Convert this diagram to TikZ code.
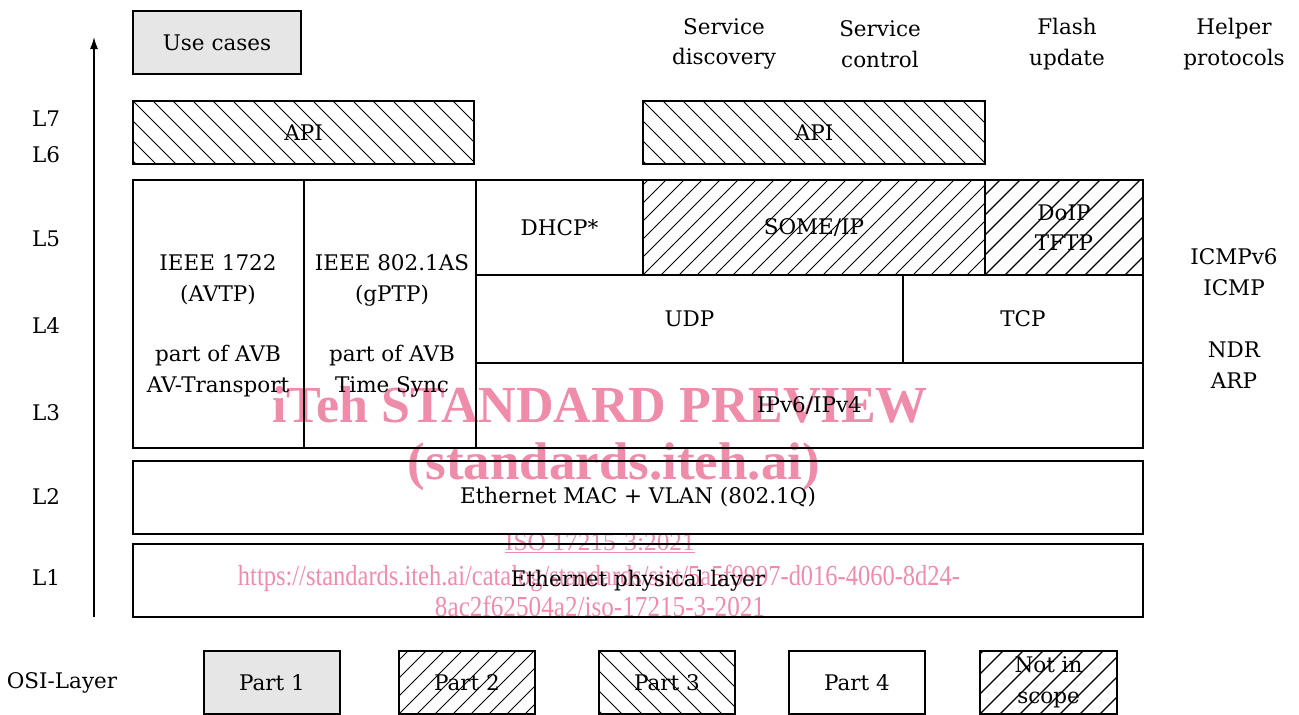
\documentclass[tikz,border=0pt]{standalone}
\usepackage{fontspec}
\setmainfont{DejaVu Serif}
\newfontfamily\wmfont{Liberation Serif}
\usetikzlibrary{arrows.meta}
\definecolor{wmpink}{RGB}{238,140,170}
\definecolor{boxgray}{RGB}{230,230,230}
\newcommand{\bx}[7]{\node[blk,#6,minimum width={(#4-#2)*1pt},minimum height={(#5-#3)*1pt}] (#1) at (#2,#3) {#7};}
\begin{document}
\begin{tikzpicture}[x=1pt,y=-1pt,
  every node/.style={font=\fontsize{21.5}{30.5}\selectfont, inner sep=0pt, outer sep=0pt},
  blk/.style={draw, line width=1.8pt, anchor=north west, align=center},
  hatchfine/.style={path picture={\foreach \i in {-30,...,30}{\draw[line width=0.9pt] ([xshift=\i*18pt]path picture bounding box.south west) -- ++(300pt,300pt);}}},
  hatchwide/.style={path picture={\foreach \i in {-20,...,20}{\draw[line width=1.2pt] ([xshift=\i*20pt]path picture bounding box.south west) -- ++(300pt,300pt);}}},
  hatchback/.style={path picture={\foreach \i in {-20,...,20}{\draw[line width=0.9pt] ([xshift=\i*20pt]path picture bounding box.north west) -- ++(300pt,-300pt);}}},
  wm/.style={text=wmpink, align=center},
  lbl/.style={align=center}
]
\useasboundingbox (0,0) rectangle (1299,715);

% watermark
\node[wm] (wm1) at (600,405) {\wmfont\bfseries\fontsize{52}{52}\selectfont iTeh STANDARD PREVIEW};
\node[wm] (wm2) at (614,467) {\wmfont\bfseries\fontsize{53}{53}\selectfont (standards.iteh.ai)};
\node[wm] (wm3) at (600,543) {\wmfont\fontsize{25.4}{26}\selectfont\underline{ISO 17215-3:2021}};
\node[wm] (wm4) at (599,578) {\resizebox{722pt}{\height}{\wmfont\fontsize{29}{30}\selectfont https://standards.iteh.ai/catalog/standards/sist/5a5f9997-d016-4060-8d24-}};
\node[wm] (wm5) at (600,606) {\resizebox{330pt}{\height}{\wmfont\fontsize{29}{30}\selectfont 8ac2f62504a2/iso-17215-3-2021}};

% axis
\coordinate (axisbot) at (94,617);
\coordinate (axistop) at (94,37);
\draw[line width=1.5pt, -{Latex[length=12pt,width=8pt]}] (axisbot) -- (axistop);

% layer labels
\node (L7) at (46,119) {L7};
\node (L6) at (46,155) {L6};
\node (L5) at (46,239) {L5};
\node (L4) at (46,326) {L4};
\node (L3) at (46,413) {L3};
\node (L2) at (46,497) {L2};
\node (L1) at (46,578) {L1};
\node (osi) at (62,683) {OSI-Layer};

% top labels
\node[lbl] (sdisc) at (724,44) {Service\\discovery};
\node[lbl] (sctrl) at (880,44) {Service\\control};
\node[lbl] (flash) at (1067,44) {Flash\\update};
\node[lbl] (helper) at (1234,44) {Helper\\protocols};
\node[lbl] (icmp) at (1234,272) {ICMPv6\\ICMP};
\node[lbl] (ndr) at (1234,365) {NDR\\ARP};

% boxes
\bx{usecases}{133}{11}{301}{74}{fill=boxgray}{Use cases}
\bx{apiL}{133}{101}{474}{164}{hatchback}{API}
\bx{apiR}{643}{101}{985}{164}{hatchback}{API}
\bx{avtp}{133}{180}{304}{448}{}{}
\bx{gptp}{304}{180}{476}{448}{}{}
\bx{dhcp}{476}{180}{643}{275}{}{DHCP*}
\bx{someip}{643}{180}{985}{275}{hatchfine}{SOME/IP}
\bx{doip}{985}{180}{1143}{275}{hatchwide}{DoIP\\TFTP}
\bx{udp}{476}{275}{903}{363}{}{UDP}
\bx{tcp}{903}{275}{1143}{363}{}{TCP}
\bx{ip}{476}{363}{1143}{448}{}{IPv6/IPv4}
\bx{mac}{133}{461}{1143}{534}{}{Ethernet MAC + VLAN (802.1Q)}
\bx{phy}{133}{544}{1143}{617}{}{Ethernet physical layer}

\node[lbl] (avtptxt) at (218,326) {IEEE 1722\\(AVTP)\\[30pt]part of AVB\\AV-Transport};
\node[lbl] (gptptxt) at (392,326) {IEEE 802.1AS\\(gPTP)\\[30pt]part of AVB\\Time Sync};

% legend
\bx{p1}{204}{651}{340}{714}{fill=boxgray}{Part 1}
\bx{p2}{399}{651}{535}{714}{hatchfine}{Part 2}
\bx{p3}{599}{651}{735}{714}{hatchback}{Part 3}
\bx{p4}{789}{651}{925}{714}{}{Part 4}
\bx{nis}{980}{651}{1117}{714}{hatchwide}{Not in\\scope}
\end{tikzpicture}
\end{document}
